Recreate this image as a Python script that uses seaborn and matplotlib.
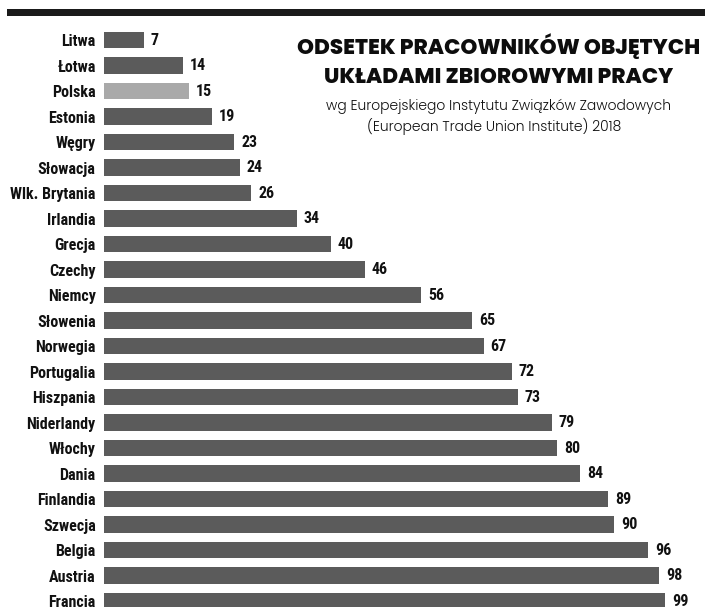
import matplotlib
matplotlib.use("Agg")
import matplotlib.pyplot as plt
import seaborn as sns
import pandas as pd

countries = ["Litwa", "Łotwa", "Polska", "Estonia", "Węgry", "Słowacja", "Wlk. Brytania",
             "Irlandia", "Grecja", "Czechy", "Niemcy", "Słowenia", "Norwegia", "Portugalia",
             "Hiszpania", "Niderlandy", "Włochy", "Dania", "Finlandia", "Szwecja", "Belgia",
             "Austria", "Francja"]
values = [7, 14, 15, 19, 23, 24, 26, 34, 40, 46, 56, 65, 67, 72, 73, 79, 80, 84, 89, 90, 96, 98, 99]
highlight = "Polska"

NARROW = ['Liberation Sans Narrow', 'Arial Narrow', 'Roboto Condensed', 'Archivo Narrow',
          'PT Sans Narrow', 'IBM Plex Sans Condensed', 'DejaVu Sans']
TITLE = ['Poppins', 'Inter', 'DejaVu Sans']

sns.set_theme(style="white")
plt.rcParams['font.family'] = NARROW

df = pd.DataFrame({"kraj": countries, "odsetek": values})
palette = {c: ("#a9a9a9" if c == highlight else "#5b5b5b") for c in countries}

fig = plt.figure(figsize=(7.05, 6.07), dpi=100)
top_px = 25
ax = fig.add_axes([104/705, 0, 595/705, (607-top_px)/607])
sns.barplot(data=df, x="odsetek", y="kraj", hue="kraj", palette=palette, legend=False,
            width=0.66, ax=ax, orient="h", linewidth=0)
ax.set_xlim(0, 105)
spacing = 25.5
ax.set_ylim((607-40)/spacing, -(40-top_px)/spacing)
for s in ax.spines.values():
    s.set_visible(False)
ax.set_xticks([])
ax.set_xlabel("")
ax.set_ylabel("")
ax.tick_params(axis="y", length=0, pad=6)
for lab in ax.get_yticklabels():
    lab.set_fontweight("bold")
    lab.set_fontsize(11.5)
    lab.set_color("#111111")
    lab.set_family(NARROW)
for i, v in enumerate(values):
    ax.annotate(str(v), xy=(v, i), xytext=(5, 0), textcoords="offset points",
                va="center", ha="left", fontsize=11.5, fontweight="bold", color="#111111",
                family=NARROW)

fig.add_artist(plt.Rectangle((7/705, 1-16/607), 1, 7/607, transform=fig.transFigure,
                             color="#1a1a1a", lw=0))

fig.text(499/705, 1-47/607, "ODSETEK PRACOWNIKÓW OBJĘTYCH", ha="center", va="center",
         fontsize=15.5, fontweight=800, family=TITLE, color="#0d0d0d")
fig.text(499/705, 1-78/607, "UKŁADAMI ZBIOROWYMI PRACY", ha="center", va="center",
         fontsize=15.5, fontweight=800, family=TITLE, color="#0d0d0d")
fig.text(499/705, 1-106/607, "wg Europejskiego Instytutu Związków Zawodowych", ha="center",
         va="center", fontsize=10, fontweight=300, family=TITLE, color="#111111")
fig.text(494/705, 1-126/607, "(European Trade Union Institute) 2018", ha="center",
         va="center", fontsize=10, fontweight=300, family=TITLE, color="#111111")

fig.savefig("out.png", dpi=100)
